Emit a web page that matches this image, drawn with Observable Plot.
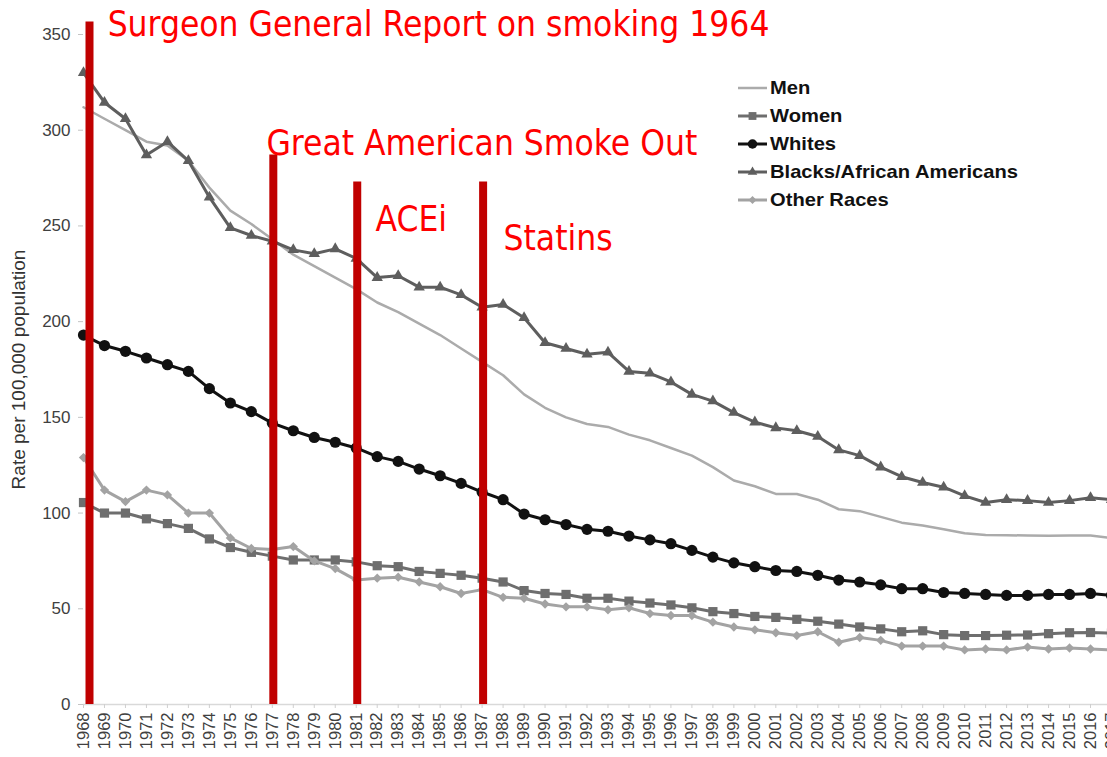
<!DOCTYPE html>
<html><head><meta charset="utf-8">
<script src="https://cdn.jsdelivr.net/npm/d3@7"></script>
<script src="https://cdn.jsdelivr.net/npm/@observablehq/plot@0.6"></script>
<style>
html,body{margin:0;padding:0;background:#fff;overflow:hidden;}
#wrap{position:relative;width:1107px;height:757px;overflow:hidden;}
</style></head><body><div id="wrap"></div>
<script>
const years = [1968,1969,1970,1971,1972,1973,1974,1975,1976,1977,1978,1979,1980,1981,1982,1983,1984,1985,1986,1987,1988,1989,1990,1991,1992,1993,1994,1995,1996,1997,1998,1999,2000,2001,2002,2003,2004,2005,2006,2007,2008,2009,2010,2011,2012,2013,2014,2015,2016,2017];
const men = [312,306,300,294,292,284,270,258,251,243,235,229,223,217,210,205,199,193,186,179,172,162,155,150,146.5,145,141,138,134,130,124,117,114,110,110,107,102,101,98,95,93.5,91.5,89.5,88.6,88.4,88.3,88.2,88.3,88.3,87];
const women = [105.5,100,100,97,94.5,92,86.5,82,79.5,77.5,75.5,75.5,75.5,74.5,72.5,72,69.5,68.5,67.5,66,64,59.5,58,57.5,55.5,55.5,54,53,52,50.5,48.5,47.5,46,45.5,44.5,43.5,42,40.5,39.5,38,38.5,36.5,36,36,36.2,36.3,37,37.5,37.6,37.3];
const whites = [193,187.5,184.5,181,177.5,174,165,157.5,153,147,143,139.5,137,134,129.5,127,123,119.5,115.5,111,107,99.5,96.5,94,91.5,90.5,88,86,84,80.5,77,74,72,70,69.5,67.5,65,64,62.5,60.5,60.5,58.5,58,57.5,57,57,57.5,57.5,58,57];
const blacks = [330,314.5,306,287,294,284,265,249,245,242,237.5,235.5,238,233,223,224,218,218,214,207.5,209,202,189,186,183,184,174,173,168.5,162,158.5,152.5,147.5,144.5,143,140,133,130,124,119,116,113.5,109,105.5,107,106.5,105.5,106.5,108,107];
const otherRaces = [129,112,106,112,109.5,100,100,87,81.5,81,82.5,75,71,65,66,66.5,64,61.5,58,60,56,55.5,52.5,51,51,49.5,50.5,47.5,46.5,46.5,43,40.5,39,37.5,36,38,32.5,35,33.5,30.5,30.5,30.5,28.5,29,28.5,30,29,29.5,29,28.5];
const seriesNames = ["Men","Women","Whites","Blacks/African Americans","Other Races"];
const yTicks = [0,50,100,150,200,250,300,350];
const yLabel = "Rate per 100,000 population";
const eventYears = [1968,1977,1981,1987];
const eventTops = [356.5,287,273,273];
const noteLabels = ["Surgeon General Report on smoking 1964","Great American Smoke Out","ACEi","Statins"];
const noteYears = [1969.15,1976.72,1981.92,1988.02];
const noteLevels = [349,286.8,247.6,237.2];

const seriesValues = [men, women, whites, blacks, otherRaces];
const styles = [
  {color:"#ababab", width:2.5, symbol:null, r:0},
  {color:"#6e6e6e", width:3, symbol:"square", r:5.2},
  {color:"#111111", width:3, symbol:"circle", r:5.6},
  {color:"#5e5e5e", width:3, symbol:"triangle", r:4.2},
  {color:"#a3a3a3", width:3, symbol:"diamond2", r:4.2}
];

const marks = [
  Plot.ruleY([0], {stroke:"#d9d9d9", strokeWidth:1.5}),
  Plot.axisY({ticks:yTicks, tickSize:5, tickPadding:8, stroke:"#c4c4c4", fill:"#404040", fontSize:17, fontFamily:"Liberation Sans, Arial, sans-serif", label:null}),
  Plot.axisX({ticks:years, tickFormat:d=>String(d), tickRotate:-90, tickSize:4, tickPadding:4, stroke:"#cfcfcf", fill:"#404040", fontSize:16.5, fontFamily:"Liberation Sans, Arial, sans-serif", label:null}),
  Plot.text([yLabel], {frameAnchor:"left", dx:-65, rotate:-90, textAnchor:"middle", lineAnchor:"middle", text:d=>d, fill:"#333", fontSize:19, fontFamily:"Liberation Sans, Arial, sans-serif"})
];
seriesNames.forEach((name, si) => {
  const rows = years.map((year, i) => ({series:name, year, value:seriesValues[si][i]}));
  const s = styles[si];
  marks.push(Plot.line(rows, {x:"year", y:"value", stroke:s.color, strokeWidth:s.width}));
  if (s.symbol) marks.push(Plot.dot(rows, {x:"year", y:"value", symbol:s.symbol, r:s.r, fill:s.color, stroke:"none"}));
});
const events = eventYears.map((year,i)=>({year, top:eventTops[i]}));
marks.push(Plot.ruleX(events.slice(0,1), {x:"year", y1:0, y2:"top", stroke:"#c00000", strokeWidth:8, dx:6}));
marks.push(Plot.ruleX(events.slice(1), {x:"year", y1:0, y2:"top", stroke:"#c00000", strokeWidth:8, dx:1}));
const notes = noteLabels.map((label,i)=>({label, year:noteYears[i], level:noteLevels[i]}));
marks.push(Plot.text(notes, {x:"year", y:"level", text:"label", textAnchor:"start", lineAnchor:"bottom", fill:"#ff0000", fontSize:35, fontFamily:"DejaVu Sans Condensed, Liberation Sans, sans-serif"}));

const chart = Plot.plot({
  width:1107, height:757,
  marginLeft:83, marginRight:0, marginTop:34, marginBottom:53,
  x:{type:"linear", domain:[1968,2017], range:[83,1111]},
  y:{domain:[0,350], range:[704,34]},
  style:{background:"#fff", overflow:"visible"},
  marks
});
document.getElementById("wrap").appendChild(chart);

// legend overlay
const lg = d3.select("#wrap").append("svg")
  .attr("width",330).attr("height",150)
  .style("position","absolute").style("left","730px").style("top","70px");
const symMap = {square:d3.symbolSquare, circle:d3.symbolCircle, triangle:d3.symbolTriangle, diamond2:d3.symbolDiamond2};
seriesNames.forEach((name, i) => {
  const s = styles[i];
  const g = lg.append("g").attr("transform", `translate(0,${18 + 28*i})`);
  g.append("line").attr("x1",8).attr("x2",37).attr("y1",0).attr("y2",0).attr("stroke",s.color).attr("stroke-width",s.width);
  if (s.symbol) g.append("path").attr("transform","translate(22.5,0)")
    .attr("d", d3.symbol(symMap[s.symbol], Math.PI*(s.r*0.85)*(s.r*0.85))()).attr("fill",s.color);
  g.append("text").attr("transform","translate(40,0) scale(1.12,1)").attr("dy","0.36em")
    .attr("font-family","Liberation Sans, Arial, sans-serif").attr("font-weight","bold").attr("font-size",18)
    .attr("fill","#111").text(name);
});
</script></body></html>
